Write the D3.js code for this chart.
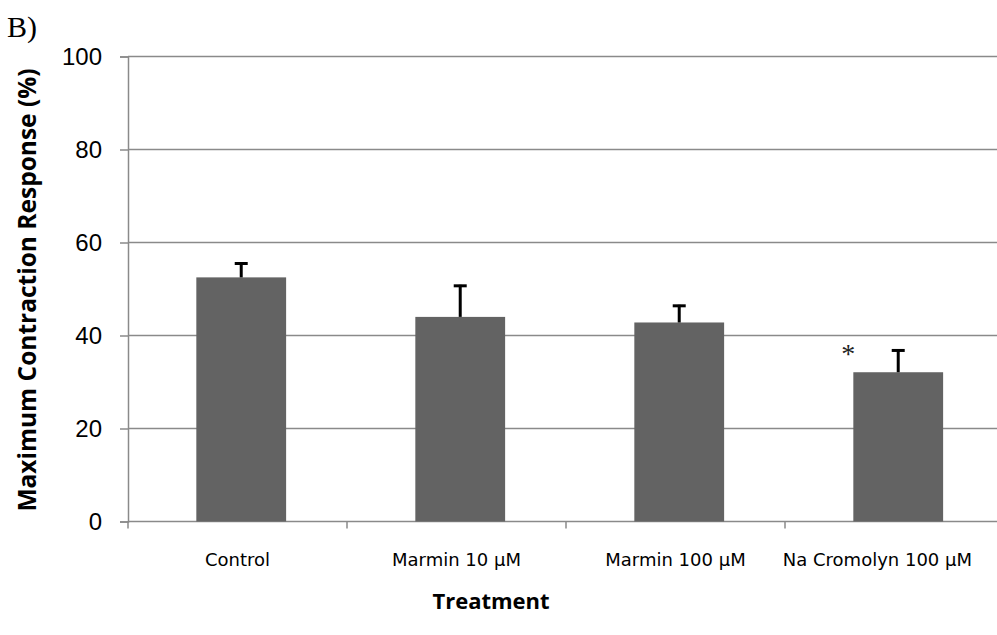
<!DOCTYPE html>
<html><head><meta charset="utf-8">
<script src="https://cdn.jsdelivr.net/npm/d3@7"></script>
<style>body{margin:0;background:#fff}svg{display:block}</style>
</head><body>
<svg id="c" width="997" height="635"></svg>
<script>
const categories = ["Control", "Marmin 10 μM", "Marmin 100 μM", "Na Cromolyn 100 μM"];
const means = [52.5, 44.0, 42.8, 32.1];
const errors = [3.2, 6.9, 3.8, 4.9];
const significant = [false, false, false, true];
const yTicks = [0, 20, 40, 60, 80, 100];

const svg = d3.select("#c");
const pLeft = 128, pRight = 1004, pTop = 56.5, pBottom = 521.5;
const x = d3.scaleBand().domain(categories).range([pLeft, pRight]).padding(0);
const y = d3.scaleLinear().domain([0, 100]).range([pBottom, pTop]);
const step = x.step();
const barOff = step * 0.312, barW = step * 0.41;

// gridlines
svg.append("g").selectAll("line").data(yTicks.filter(d => d > 0)).join("line")
  .attr("x1", pLeft).attr("x2", 997).attr("y1", d => y(d)).attr("y2", d => y(d))
  .attr("stroke", "#8a8a8a").attr("stroke-width", 1.5);

// y axis
const ya = svg.append("g").attr("transform", `translate(${pLeft},0)`)
  .call(d3.axisLeft(y).tickValues(yTicks).tickSize(8).tickPadding(18));
ya.select(".domain").attr("stroke", "#8a8a8a").attr("stroke-width", 1.5);
ya.selectAll(".tick line").attr("stroke", "#8a8a8a").attr("stroke-width", 1.5);
ya.selectAll(".tick text").attr("font-family", "Liberation Sans, Arial, sans-serif")
  .attr("font-size", 24).attr("fill", "#000");

// x axis
const xa = svg.append("g").attr("transform", `translate(0,${pBottom})`)
  .call(d3.axisBottom(x).tickSize(0).tickPadding(32));
xa.select(".domain").remove();
svg.append("line").attr("x1", pLeft).attr("x2", 997).attr("y1", pBottom).attr("y2", pBottom)
  .attr("stroke", "#8a8a8a").attr("stroke-width", 1.5);
svg.append("g").selectAll("line").data(categories).join("line")
  .attr("x1", d => x(d)).attr("x2", d => x(d)).attr("y1", pBottom).attr("y2", pBottom + 7)
  .attr("stroke", "#8a8a8a").attr("stroke-width", 1.5);
xa.selectAll(".tick text").attr("font-family", "DejaVu Sans, sans-serif")
  .attr("font-size", 18).attr("fill", "#000")
  .each(function () {
    const b = this.getBBox();
    const tx = d3.select(this.parentNode).attr("transform");
    const m = /translate\(([-\d.]+)/.exec(tx);
    const right = (m ? +m[1] : 0) + b.x + b.width;
    if (right > 972) d3.select(this).attr("dx", 972 - right);
  });

// bars
svg.append("g").selectAll("rect").data(categories).join("rect")
  .attr("x", d => x(d) + barOff).attr("width", barW)
  .attr("y", (d, i) => y(means[i])).attr("height", (d, i) => pBottom - y(means[i]))
  .attr("fill", "#636363");

// error bars
const eb = svg.append("g").attr("stroke", "#000").attr("stroke-width", 3);
categories.forEach((c, i) => {
  const cx = x(c) + barOff + barW / 2;
  eb.append("line").attr("x1", cx).attr("x2", cx).attr("y1", y(means[i])).attr("y2", y(means[i] + errors[i]));
  eb.append("line").attr("x1", cx - 6.5).attr("x2", cx + 6.5).attr("y1", y(means[i] + errors[i]) + 1).attr("y2", y(means[i] + errors[i]) + 1);
});

// significance
svg.append("g").selectAll("text").data(categories.filter((c, i) => significant[i])).join("text")
  .attr("x", d => x(d) + barOff - 5)
  .attr("y", d => y(means[categories.indexOf(d)] + errors[categories.indexOf(d)]) + 14)
  .attr("text-anchor", "middle")
  .attr("font-family", "Liberation Serif, Times New Roman, serif").attr("font-size", 28).attr("fill", "#222")
  .text("*");

// titles
svg.append("text").attr("x", 491).attr("y", 609).attr("text-anchor", "middle")
  .attr("font-family", "Open Sans, sans-serif").attr("font-weight", "bold").attr("font-size", 22)
  .text("Treatment");
svg.append("text").attr("transform", "translate(36,290) rotate(-90)").attr("text-anchor", "middle")
  .attr("font-family", "Open Sans, sans-serif").attr("font-weight", "bold").attr("font-size", 24.5)
  .text("Maximum Contraction Response (%)");
svg.append("text").attr("x", 7).attr("y", 37)
  .attr("font-family", "Liberation Serif, Times New Roman, serif").attr("font-size", 30)
  .text("B)");
</script>
</body></html>
